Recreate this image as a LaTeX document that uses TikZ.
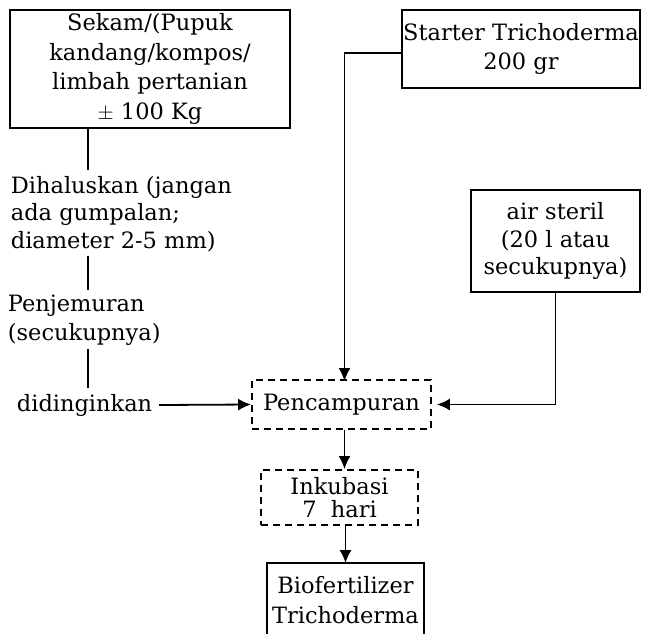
\documentclass[tikz,border=0pt]{standalone}
\usepackage{fontspec}
\setmainfont{DejaVu Serif}
\usepackage{tikz}
\usetikzlibrary{arrows.meta}

\begin{document}
\begin{tikzpicture}[x=1pt, y=-1pt, line width=1.8pt,
  every node/.style={font=\fontsize{22.5}{28.5}\selectfont, inner sep=2pt},
  box/.style={draw, align=center, inner sep=0pt},
  dbox/.style={draw, dashed, dash pattern=on 7pt off 5pt, align=center, inner sep=0pt},
  txt/.style={align=left, anchor=west},
  flow/.style={-{Latex[length=13pt,width=12pt]}, line width=1.8pt}]
\useasboundingbox (0,0) rectangle (648,633);

% bahan
\node[box, minimum width=280, minimum height=118] (sekam) at (150,69)
  {Sekam/(Pupuk\\[1pt]kandang/kompos/\\[1pt]limbah pertanian\\[1pt]$\pm$ 100 Kg};
\node[box, minimum width=238, minimum height=78] (starter) at (521,49)
  {Starter Trichoderma\\200 gr};
\node[box, minimum width=169, minimum height=102] (air) at (555.5,241)
  {air steril\\[-1pt](20 l atau\\[-1pt]secukupnya)};

% perlakuan
\node[txt] (halus) at (8,214) {Dihaluskan (jangan\\[-1pt]ada gumpalan;\\[-1pt]diameter 2-5 mm)};
\node[txt] (jemur) at (5,320) {Penjemuran\\(secukupnya)};
\node[txt] (dingin) at (14,405) {didinginkan};
\coordinate (spine) at (88,0);

\node[dbox, minimum width=179, minimum height=49] (campur) at (341.5,404.5) {Pencampuran};
\node[dbox, minimum width=157, minimum height=55] (inkubasi) at (339.5,497.5) {Inkubasi\\[-5pt]7\ \ hari};
\node[align=center, minimum width=155, minimum height=72, inner sep=0pt] (bio) at (345.5,600)
  {Biofertilizer\\[1pt]Trichoderma};
\draw (bio.south west) -- (bio.north west) -- (bio.north east) -- (bio.south east);

% alur
\draw (sekam.south -| spine) -- ([yshift=3]halus.north -| spine);
\draw ([yshift=-1]halus.south -| spine) -- ([yshift=2]jemur.north -| spine);
\draw ([yshift=-1]jemur.south -| spine) -- ([yshift=3]dingin.north -| spine);
\draw[flow] ([xshift=4]dingin.east) -- (campur.west);
\draw[flow] ([yshift=-4]starter.west) -| ([xshift=3,yshift=-2]campur.north);
\draw[flow, shorten >=5pt] (air.south) |- (campur.east);
\draw[flow] ([xshift=3]campur.south) -- ([xshift=3]campur.south |- inkubasi.north);
\draw[flow] ([xshift=6]inkubasi.south) -- ([xshift=6]inkubasi.south |- bio.north);
\end{tikzpicture}
\end{document}
